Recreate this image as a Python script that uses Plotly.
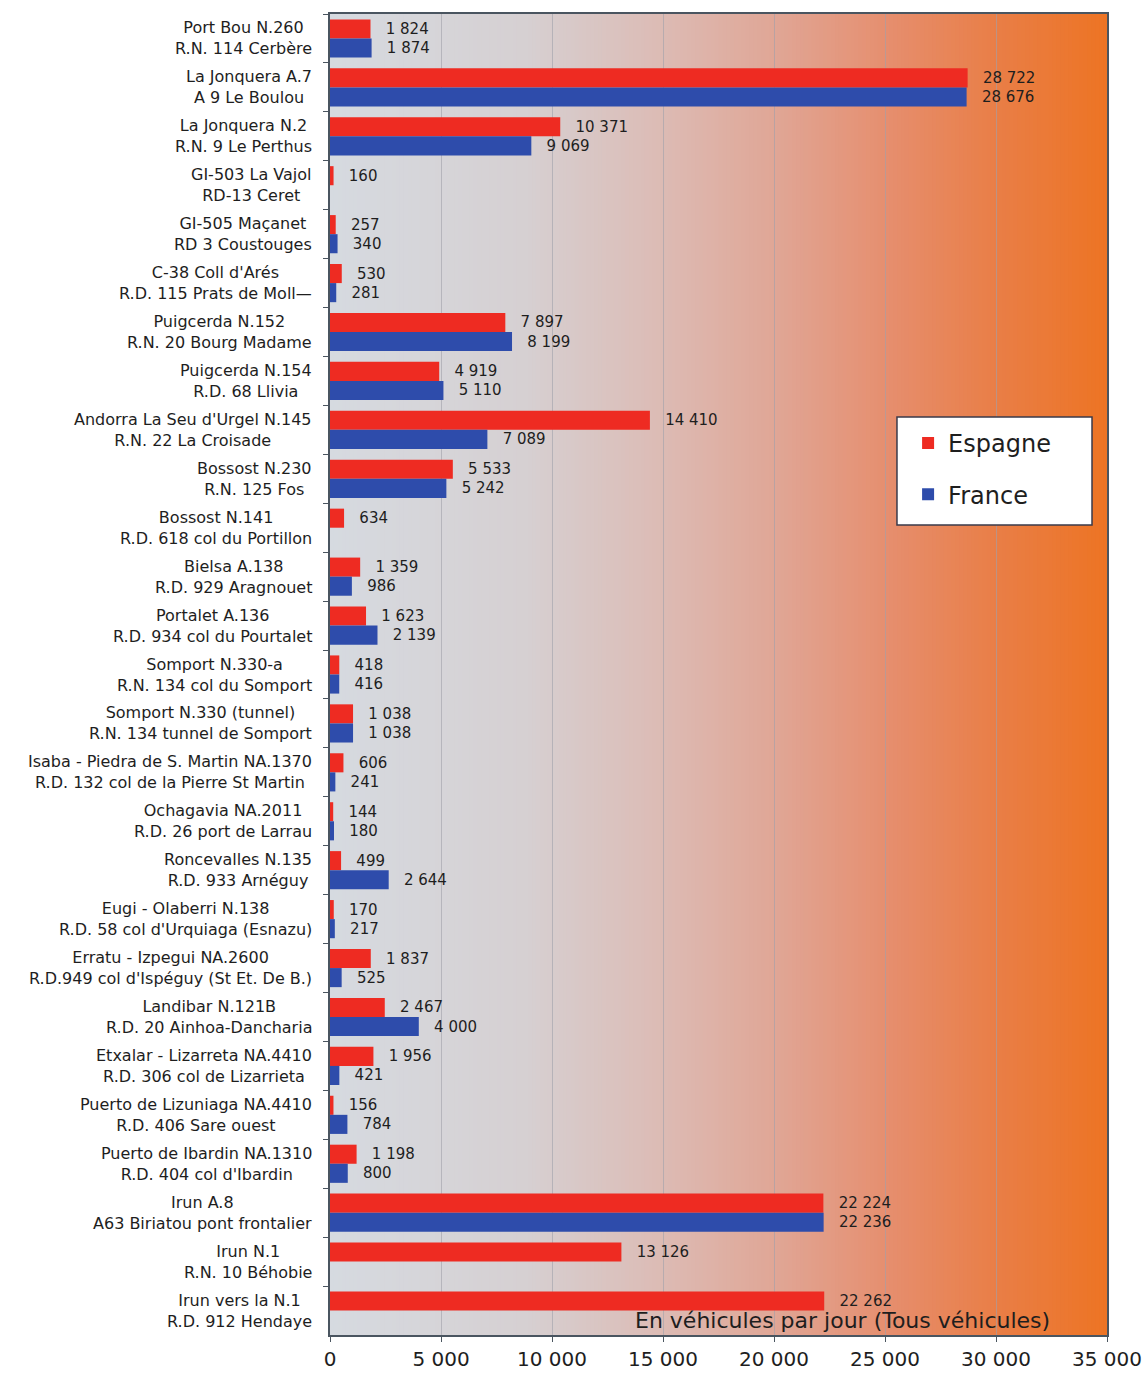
import plotly.graph_objects as go

espagne_labels = [
    "Port Bou N.260", "La Jonquera A.7", "La Jonquera N.2", "GI-503 La Vajol",
    "GI-505 Maçanet", "C-38 Coll d'Arés", "Puigcerda N.152", "Puigcerda N.154",
    "Andorra La Seu d'Urgel N.145", "Bossost N.230", "Bossost N.141", "Bielsa A.138",
    "Portalet A.136", "Somport N.330-a", "Somport N.330 (tunnel)",
    "Isaba - Piedra de S. Martin NA.1370", "Ochagavia NA.2011", "Roncevalles N.135",
    "Eugi - Olaberri N.138", "Erratu - Izpegui NA.2600", "Landibar N.121B",
    "Etxalar - Lizarreta NA.4410", "Puerto de Lizuniaga NA.4410",
    "Puerto de Ibardin NA.1310", "Irun A.8", "Irun N.1", "Irun vers la N.1",
]
france_labels = [
    "R.N. 114 Cerbère", "A 9 Le Boulou", "R.N. 9 Le Perthus", "RD-13 Ceret",
    "RD 3 Coustouges", "R.D. 115 Prats de Moll—", "R.N. 20 Bourg Madame", "R.D. 68 Llivia",
    "R.N. 22 La Croisade", "R.N. 125 Fos", "R.D. 618 col du Portillon", "R.D. 929 Aragnouet",
    "R.D. 934 col du Pourtalet", "R.N. 134 col du Somport", "R.N. 134 tunnel de Somport",
    "R.D. 132 col de la Pierre St Martin", "R.D. 26 port de Larrau", "R.D. 933 Arnéguy",
    "R.D. 58 col d'Urquiaga (Esnazu)", "R.D.949 col d'Ispéguy (St Et. De B.)",
    "R.D. 20 Ainhoa-Dancharia", "R.D. 306 col de Lizarrieta", "R.D. 406 Sare ouest",
    "R.D. 404 col d'Ibardin", "A63 Biriatou pont frontalier", "R.N. 10 Béhobie",
    "R.D. 912 Hendaye",
]
espagne = [1824, 28722, 10371, 160, 257, 530, 7897, 4919, 14410, 5533, 634, 1359,
           1623, 418, 1038, 606, 144, 499, 170, 1837, 2467, 1956, 156, 1198,
           22224, 13126, 22262]
france = [1874, 28676, 9069, None, 340, 281, 8199, 5110, 7089, 5242, None, 986,
          2139, 416, 1038, 241, 180, 2644, 217, 525, 4000, 421, 784, 800,
          22236, None, None]
x_ticks = [0, 5000, 10000, 15000, 20000, 25000, 30000, 35000]

categories = [f"{a}<br>{b}" for a, b in zip(espagne_labels, france_labels)]


def fmt(v):
    if v is None:
        return ""
    return "\u2002\u00a0" + f"{v:,}".replace(",", " ")


FONT = "DejaVu Sans, Liberation Sans, Arial, sans-serif"
RED = "#ee2b22"
BLUE = "#2e4cab"
TXT = "#1e1e1e"

fig = go.Figure()
fig.add_trace(go.Bar(
    y=categories, x=espagne, name="Espagne", orientation="h",
    marker=dict(color=RED, line=dict(width=0)),
    text=[fmt(v) for v in espagne], textposition="outside", constraintext="none",
    textfont=dict(family=FONT, size=15, color=TXT), cliponaxis=False,
    legendgroup="a",
))
fig.add_trace(go.Bar(
    y=categories, x=france, name="France", orientation="h",
    marker=dict(color=BLUE, line=dict(width=0)),
    text=[fmt(v) for v in france], textposition="outside", constraintext="none",
    textfont=dict(family=FONT, size=15, color=TXT), cliponaxis=False,
    legendgroup="b",
))

# background gradient (grey -> pink -> orange)
stops = [
    (0.00, (214, 218, 224)),
    (0.25, (214, 208, 210)),
    (0.42, (220, 188, 182)),
    (0.58, (224, 165, 148)),
    (0.72, (230, 142, 110)),
    (0.86, (233, 126, 70)),
    (1.00, (237, 116, 36)),
]


def col_at(t):
    for (t0, c0), (t1, c1) in zip(stops[:-1], stops[1:]):
        if t0 <= t <= t1:
            f = (t - t0) / (t1 - t0)
            return "rgb(%d,%d,%d)" % tuple(round(a + (b - a) * f) for a, b in zip(c0, c1))
    return "rgb(%d,%d,%d)" % stops[-1][1]


N = 200
shapes = []
for i in range(N):
    x0 = i / N
    x1 = min(1.0, (i + 1.6) / N)
    shapes.append(dict(type="rect", xref="paper", yref="paper", x0=x0, x1=x1, y0=0, y1=1,
                       fillcolor=col_at((i + 0.5) / N), line=dict(width=0), layer="below"))

# legend box
shapes.append(dict(type="rect", xref="paper", yref="paper",
                   x0=0.7297, x1=0.9807, y0=0.6132, y1=0.6949,
                   fillcolor="white", line=dict(color="#3a3a4a", width=1.5), layer="above"))

annotations = []
for c in categories:
    annotations.append(dict(
        x=0, xref="paper", y=c, yref="y", xanchor="right", yanchor="middle",
        xshift=-16, text=c, showarrow=False, align="center",
        font=dict(family=FONT, size=16, color=TXT),
    ))
annotations.append(dict(
    x=0.66, xref="paper", y=0, yref="paper", xanchor="center", yanchor="bottom",
    yshift=0, text="En véhicules par jour (Tous véhicules)", showarrow=False,
    font=dict(family=FONT, size=22, color=TXT),
))

fig.update_layout(
    width=1146, height=1378,
    margin=dict(l=330, r=39, t=14, b=43),
    paper_bgcolor="white", plot_bgcolor="rgb(214,218,224)",
    barmode="group", bargap=0.22, bargroupgap=0.0,
    separators=", ",
    shapes=shapes, annotations=annotations,
    showlegend=True,
    legend=dict(
        x=0.744, xanchor="left", y=0.692, yanchor="top",
        bgcolor="rgba(0,0,0,0)", borderwidth=0,
        font=dict(family=FONT, size=24, color=TXT),
        traceorder="grouped", tracegroupgap=17,
        itemwidth=30,
    ),
    font=dict(family=FONT, color=TXT),
)
fig.update_xaxes(
    range=[0, 35000], tickvals=x_ticks, tickformat=",d", automargin=False,
    showgrid=True, gridcolor="rgba(160,160,170,0.6)", gridwidth=1,
    showline=True, linecolor="#4a5560", linewidth=2, mirror=True,
    ticks="outside", ticklen=5, tickcolor="#4a5560",
    tickfont=dict(family=FONT, size=20, color=TXT),
    zeroline=False,
)
fig.update_yaxes(
    autorange="reversed", categoryorder="array", categoryarray=categories,
    showticklabels=False, ticks="outside", ticklen=5, tickcolor="#4a5560",
    tickson="boundaries", automargin=False,
    showline=True, linecolor="#4a5560", linewidth=2, mirror=True,
    showgrid=False, zeroline=False,
)

fig.write_html("out.html", config={"displayModeBar": False},
               post_script="document.body.style.margin='0';")
